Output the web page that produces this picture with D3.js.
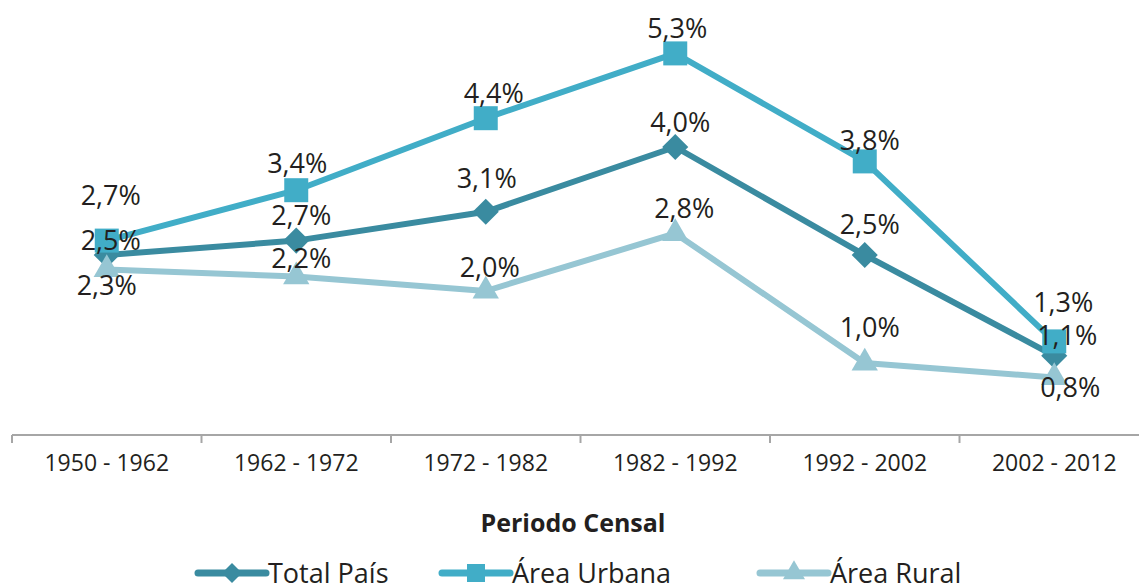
<!DOCTYPE html>
<html>
<head>
<meta charset="utf-8">
<script src="https://cdn.jsdelivr.net/npm/d3@7"></script>
<style>
  html, body { margin: 0; padding: 0; background: #fff; }
  text { font-family: "Open Sans", sans-serif; fill: #231f20; }
</style>
</head>
<body>
<div id="chart"></div>
<script>
(function () {
  var width = 1139,
    height = 587;

  // data
  var periods = ["1950 - 1962", "1962 - 1972", "1972 - 1982", "1982 - 1992", "1992 - 2002", "2002 - 2012"];
  var totalPais = [2.5, 2.7, 3.1, 4.0, 2.5, 1.1];
  var areaUrbana = [2.7, 3.4, 4.4, 5.3, 3.8, 1.3];
  var areaRural = [2.3, 2.2, 2.0, 2.8, 1.0, 0.8];
  var seriesNames = ["Total País", "Área Urbana", "Área Rural"];

  // hand placed label offsets (dx, dy from the point), like in the original
  var labelOffsets = [
    [[4, -5], [5, -16], [1, -24], [5, -15], [5, -21], [13, -11]],
    [[4, -36], [1, -17], [8, -15], [2, -15], [5, -11], [9, -29]],
    [[0, 26], [5, -9], [4, -14], [9, -15], [5, -26], [16, 20]]
  ];

  var colors = ["#3a8ba0", "#41adc7", "#96c6d3"];
  var symbols = [d3.symbolSquare, d3.symbolSquare, d3.symbolTriangle];
  var markerSize = [340, 576, 300];
  var markerRotate = [45, 0, 0];
  var legendSize = [200, 324, 210];

  var series = [totalPais, areaUrbana, areaRural].map(function (vals, i) {
    return { name: seriesNames[i], values: vals, i: i };
  });

  var svg = d3.select("#chart")
    .append("svg")
    .attr("width", width)
    .attr("height", height);

  var x = d3.scaleBand().domain(periods).range([12, 1149]).padding(0);
  var y = d3.scaleLinear().domain([0, 6]).range([435, 3]);

  // axis
  var axisG = svg.append("g")
    .attr("transform", "translate(0," + y(0) + ")")
    .call(d3.axisBottom(x).tickSize(0).tickPadding(20));
  axisG.select(".domain").remove();
  axisG.selectAll("text")
    .style("font-family", "'Open Sans', sans-serif")
    .style("font-size", "23px")
    .attr("fill", "#231f20");

  axisG.append("line")
    .attr("x1", x.range()[0]).attr("x2", width)
    .attr("y1", 0).attr("y2", 0)
    .attr("stroke", "#a6a6a6").attr("stroke-width", 2);

  var bounds = periods.map(function (p) { return x(p); });
  axisG.selectAll(".btick")
    .data(bounds)
    .enter().append("line")
    .attr("class", "btick")
    .attr("x1", function (d) { return d; })
    .attr("x2", function (d) { return d; })
    .attr("y1", 0).attr("y2", 8)
    .attr("stroke", "#a6a6a6").attr("stroke-width", 2);

  svg.append("text")
    .attr("x", 573)
    .attr("y", 532)
    .attr("text-anchor", "middle")
    .style("font-size", "25px")
    .style("font-weight", "bold")
    .text("Periodo Censal");

  var line = d3.line()
    .x(function (d, i) { return x(periods[i]) + x.bandwidth() / 2; })
    .y(function (d) { return y(d); });

  series.forEach(function (s) {
    var g = svg.append("g");
    g.append("path")
      .attr("d", line(s.values))
      .attr("fill", "none")
      .attr("stroke", colors[s.i])
      .attr("stroke-width", 6)
      .attr("stroke-linejoin", "round");

    g.selectAll("path.mark")
      .data(s.values)
      .enter().append("path")
      .attr("class", "mark")
      .attr("d", d3.symbol().type(symbols[s.i]).size(markerSize[s.i]))
      .attr("fill", colors[s.i])
      .attr("transform", function (d, i) {
        return "translate(" + (x(periods[i]) + x.bandwidth() / 2) + "," + y(d) + ") rotate(" + markerRotate[s.i] + ")";
      });
  });

  // labels on top
  series.forEach(function (s) {
    svg.append("g").selectAll("text")
      .data(s.values)
      .enter().append("text")
      .attr("x", function (d, i) { return x(periods[i]) + x.bandwidth() / 2 + labelOffsets[s.i][i][0]; })
      .attr("y", function (d, i) { return y(d) + labelOffsets[s.i][i][1]; })
      .attr("text-anchor", "middle")
      .style("font-size", "27px")
      .text(function (d) { return d3.format(".1f")(d).replace(".", ",") + "%"; });
  });

  // legend
  var legendX = [198, 442, 760];
  var legend = svg.append("g");
  series.forEach(function (s) {
    var lg = legend.append("g").attr("transform", "translate(" + legendX[s.i] + ",573)");
    lg.append("line")
      .attr("x1", 0).attr("x2", 68)
      .attr("stroke", colors[s.i])
      .attr("stroke-width", 7)
      .attr("stroke-linecap", "round");
    lg.append("path")
      .attr("d", d3.symbol().type(symbols[s.i]).size(legendSize[s.i]))
      .attr("fill", colors[s.i])
      .attr("transform", "translate(34,0) rotate(" + markerRotate[s.i] + ")");
    lg.append("text")
      .attr("x", 70)
      .attr("y", 10)
      .style("font-size", "27px")
      .text(s.name);
  });
})();
</script>
</body>
</html>
